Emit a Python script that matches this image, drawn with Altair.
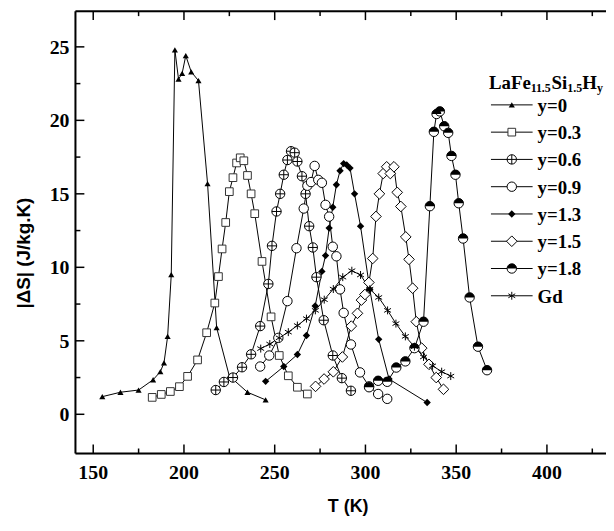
import altair as alt
import pandas as pd

# ---------------- data ----------------
T_y0 = [155, 165, 175, 183, 187, 189, 191, 193, 195, 197, 199, 201, 204, 208, 213, 218, 225, 235, 245]
S_y0 = [1.2, 1.5, 1.65, 2.35, 2.9, 3.5, 5.3, 9.5, 24.8, 22.8, 23.2, 24.4, 23.3, 22.7, 15.7, 5.9, 2.6, 1.5, 0.98]

T_y03 = [182.5, 187.5, 192.5, 197.5, 202, 207.5, 212.5, 217, 219, 221, 223, 225, 227, 229, 231, 233, 235, 237, 239, 243, 248, 252.5, 257.5, 262.5, 268]
S_y03 = [1.15, 1.35, 1.55, 1.88, 2.58, 3.7, 5.55, 7.57, 9.37, 11.25, 13.05, 15.15, 16.1, 17.1, 17.45, 17.25, 16.25, 15.0, 13.65, 10.4, 6.63, 4.0, 2.62, 1.84, 1.38]

T_y06 = [217.5, 222, 227, 232, 237, 242, 246.5, 248.5, 251, 253, 255, 257, 259, 261, 262.5, 265, 267, 269, 271, 273, 277, 282, 287, 292]
S_y06 = [1.65, 2.2, 2.5, 3.2, 4.08, 6.0, 8.87, 11.46, 13.8, 15.0, 16.3, 17.3, 17.9, 17.8, 17.2, 16.2, 15.0, 12.8, 11.35, 9.33, 6.4, 4.0, 2.46, 1.6]

T_y09 = [242, 247, 252, 257, 262, 266, 268, 270, 272, 274, 276, 278, 280, 282, 284, 286, 288, 292, 297, 302, 307, 312]
S_y09 = [3.25, 4.0, 5.2, 7.7, 11.3, 14.0, 15.55, 15.8, 16.9, 15.95, 15.75, 14.25, 13.45, 11.4, 10.75, 8.5, 6.9, 4.75, 2.85, 1.9, 1.38, 1.05]

T_y13 = [245, 255, 262.5, 267.5, 272.3, 276, 278, 280, 282, 284, 286, 288, 289.7, 291.5, 294, 297.3, 302.4, 307.3, 313, 334]
S_y13 = [2.24, 3.25, 4.07, 5.36, 7.37, 9.72, 10.8, 12.67, 14.09, 15.62, 16.57, 17.06, 16.97, 16.75, 15.0, 12.8, 8.5, 5.1, 2.4, 0.8]

T_y15 = [272.5, 277.2, 282.3, 287.3, 292.2, 295.6, 297.8, 299.7, 301.9, 304, 305.8, 307.7, 309.8, 311.7, 313.7, 315.7, 317.5, 319.5, 322.2, 324, 326, 328, 331, 335, 339, 343]
S_y15 = [1.9, 2.4, 2.89, 3.9, 6.0, 6.87, 7.77, 8.15, 8.97, 10.6, 13.46, 15.0, 16.38, 16.84, 16.38, 16.84, 15.1, 14.14, 12.07, 10.54, 8.58, 6.3, 4.5, 3.4, 2.5, 1.7]

T_y18 = [302, 307, 312, 317, 322, 327, 332, 335.5, 337.7, 339.2, 341, 343.4, 345.6, 347.4, 349.6, 351.4, 353.8, 357.4, 362, 367]
S_y18 = [1.84, 2.28, 2.21, 3.18, 3.6, 4.5, 6.3, 14.16, 19.22, 20.43, 20.61, 19.6, 19.15, 17.58, 16.3, 14.36, 11.96, 7.95, 4.6, 3.0]

T_gd = [242.3, 247.3, 252.5, 257.5, 262.5, 267.5, 272.4, 277.3, 282.3, 287.5, 292.5, 297.3, 302.4, 307.3, 312.2, 316.8, 322, 327, 332, 337, 342, 347]
S_gd = [4.47, 4.78, 5.2, 5.59, 6.04, 6.51, 7.07, 7.8, 8.52, 9.33, 9.77, 9.48, 8.51, 7.95, 7.07, 6.17, 5.3, 4.6, 3.9, 3.3, 2.9, 2.6]

series_names = ["y=0", "y=0.3", "y=0.6", "y=0.9", "y=1.3", "y=1.5", "y=1.8", "Gd"]
series_T = [T_y0, T_y03, T_y06, T_y09, T_y13, T_y15, T_y18, T_gd]
series_S = [S_y0, S_y03, S_y06, S_y09, S_y13, S_y15, S_y18, S_gd]

x_major = [150, 200, 250, 300, 350, 400]
x_minor = [175, 225, 275, 325, 375, 425]
y_major = [0, 5, 10, 15, 20, 25]
y_minor = [2.5, 7.5, 12.5, 17.5, 22.5]

x_title = "T (K)"
y_title = "|ΔS| (J/kg.K)"
title_parts = ["LaFe", "11.5", "Si", "1.5", "H", "y"]

# ---------------- layout ----------------
W, H = 535, 446
PX_PER_T = 1.83
PX_PER_S = 14.82
X0 = 140.2
X_DOM = [X0, X0 + W / PX_PER_T]
PLOT_LEFT, PLOT_TOP = 76, 9
Y_TOP = (415.5 - PLOT_TOP) / PX_PER_S
Y_BOT = Y_TOP - H / PX_PER_S


def T_of(px):
    return X0 + (px - PLOT_LEFT) / PX_PER_T


def S_of(py):
    return Y_TOP - (py - PLOT_TOP) / PX_PER_S


xs = alt.Scale(domain=X_DOM, nice=False, zero=False)
ys = alt.Scale(domain=[Y_BOT, Y_TOP], nice=False, zero=False)


def X(field):
    return alt.X(field, scale=xs, axis=None)


def Y(field):
    return alt.Y(field, scale=ys, axis=None)


SERIF = "Liberation Serif"
SANS = "Liberation Sans"

CIRCLE_PLUS = "M-1,0A1,1,0,1,1,1,0A1,1,0,1,1,-1,0ZM-1,0L1,0M0,-1L0,1"
HALF_TOP = "M-1,0A1,1,0,0,1,1,0Z"
ASTERISK = "M0,-1L0,1M-0.866,-0.5L0.866,0.5M-0.866,0.5L0.866,-0.5"

styles = {
    "y=0": [dict(shape="triangle-up", size=38, filled=True, fill="black", strokeWidth=0)],
    "y=0.3": [dict(shape="square", size=60, filled=True, fill="white", stroke="#333333", strokeWidth=1)],
    "y=0.6": [dict(shape=CIRCLE_PLUS, size=90, filled=True, fill="white", stroke="black", strokeWidth=1)],
    "y=0.9": [dict(shape="circle", size=90, filled=True, fill="white", stroke="black", strokeWidth=1)],
    "y=1.3": [dict(shape="diamond", size=55, filled=True, fill="black", strokeWidth=0)],
    "y=1.5": [dict(shape="diamond", size=115, filled=True, fill="white", stroke="black", strokeWidth=1)],
    "y=1.8": [dict(shape="circle", size=90, filled=True, fill="white", stroke="black", strokeWidth=1),
              dict(shape=HALF_TOP, size=90, filled=True, fill="black", strokeWidth=0)],
    "Gd": [dict(shape=ASTERISK, size=64, filled=False, stroke="black", strokeWidth=1)],
}

rows = []
for name, Ts, Ss in zip(series_names, series_T, series_S):
    for i, (t, s) in enumerate(zip(Ts, Ss)):
        rows.append({"series": name, "T": t, "S": s, "i": i})
df = pd.DataFrame(rows)

layers = []
layers.append(
    alt.Chart(df).mark_line(color="black", strokeWidth=1).encode(
        x=X("T:Q"), y=Y("S:Q"), detail="series:N", order="i:Q")
)


def point_layers(data, name):
    out = []
    for st in styles[name]:
        out.append(alt.Chart(data).mark_point(opacity=1, **st).encode(x=X("T:Q"), y=Y("S:Q")))
    return out


for name in series_names:
    layers += point_layers(df[df.series == name], name)

# ---------------- frame, ticks, tick labels, titles ----------------
one = pd.DataFrame({"a": [0]})
layers.append(alt.Chart(one).mark_rule(color="black", strokeWidth=2).encode(
    x=alt.value(0), x2=alt.value(W), y=alt.value(0)))
layers.append(alt.Chart(one).mark_rule(color="black", strokeWidth=2).encode(
    x=alt.value(0), x2=alt.value(W), y=alt.value(H)))
layers.append(alt.Chart(one).mark_rule(color="black", strokeWidth=2).encode(
    x=alt.value(0), y=alt.value(0), y2=alt.value(H)))


def xticks(vals, length, top):
    d = pd.DataFrame({"T": vals})
    enc = dict(x=X("T:Q"))
    if top:
        enc.update(y=alt.value(0), y2=alt.value(length))
    else:
        enc.update(y=alt.value(H), y2=alt.value(H - length))
    return alt.Chart(d).mark_rule(color="black", strokeWidth=1.5).encode(**enc)


def yticks(vals, length):
    d = pd.DataFrame({"S": vals})
    return alt.Chart(d).mark_rule(color="black", strokeWidth=1.5).encode(
        y=Y("S:Q"), x=alt.value(0), x2=alt.value(length))


layers += [xticks(x_major, 9, False), xticks(x_minor, 5, False),
           xticks(x_major, 9, True), xticks(x_minor, 5, True),
           yticks(y_major, 9), yticks(y_minor, 5)]

xl = pd.DataFrame({"T": x_major, "lab": [str(v) for v in x_major]})
layers.append(alt.Chart(xl).mark_text(baseline="top", align="center", font=SERIF, fontWeight="bold",
                                      fontSize=20, color="black").encode(
    x=X("T:Q"), y=alt.value(H + 10), text="lab:N"))
yl = pd.DataFrame({"S": y_major, "lab": [str(v) for v in y_major]})
layers.append(alt.Chart(yl).mark_text(baseline="middle", align="right", font=SERIF, fontWeight="bold",
                                      fontSize=20, color="black", dy=1).encode(
    y=Y("S:Q"), x=alt.value(-6), text="lab:N"))

tt = pd.DataFrame({"t": [x_title]})
layers.append(alt.Chart(tt).mark_text(baseline="middle", align="center", font=SANS, fontWeight="bold",
                                      fontSize=18, color="black").encode(
    x=alt.value(275), y=alt.value(H + 54), text="t:N"))
yt = pd.DataFrame({"t": [y_title]})
layers.append(alt.Chart(yt).mark_text(baseline="middle", align="center", font=SANS, fontWeight="bold",
                                      fontSize=19, color="black", angle=270).encode(
    x=alt.value(-52), y=alt.value(244), text="t:N"))

# ---------------- legend ----------------
LEG_Y0, LEG_DY = 103.5, 27.5
leg_rows = []
for k, name in enumerate(series_names):
    leg_rows.append({"series": name, "S": S_of(LEG_Y0 + k * LEG_DY),
                     "T1": T_of(495), "T2": T_of(537), "T": T_of(516), "Tx": T_of(542)})
leg = pd.DataFrame(leg_rows)
layers.append(
    alt.Chart(leg).mark_rule(color="black", strokeWidth=1).encode(
        x=X("T1:Q"), x2="T2:Q", y=Y("S:Q"))
)
for k, name in enumerate(series_names):
    layers += point_layers(leg.iloc[[k]], name)
layers.append(
    alt.Chart(leg).mark_text(align="left", baseline="middle", font=SERIF, fontWeight="bold",
                             fontSize=19, color="black", dy=1).encode(
        x=X("Tx:Q"), y=Y("S:Q"), text="series:N")
)

# legend title with subscripts
title_px = [493, 535, 556, 572, 587, 602]
title_py = [87, 91, 87, 91, 87, 91]
title_fs = [19, 12, 19, 12, 19, 12]
tdf = pd.DataFrame({"t": title_parts, "T": [T_of(p) for p in title_px],
                    "S": [S_of(p) for p in title_py], "fs": title_fs})
layers.append(
    alt.Chart(tdf).mark_text(align="left", baseline="alphabetic", font=SERIF, fontWeight="bold",
                             color="black").encode(
        x=X("T:Q"), y=Y("S:Q"), text="t:N", size=alt.Size("fs:Q", scale=None, legend=None))
)

chart = alt.layer(*layers).properties(
    width=W, height=H,
    autosize=alt.AutoSizeParams(type="none"),
    padding={"left": PLOT_LEFT - 8, "top": PLOT_TOP - 8, "right": 0, "bottom": 76},
).configure_view(stroke=None).configure(background="white")

chart.save("out.html", embed_options={"renderer": "svg", "actions": False})
